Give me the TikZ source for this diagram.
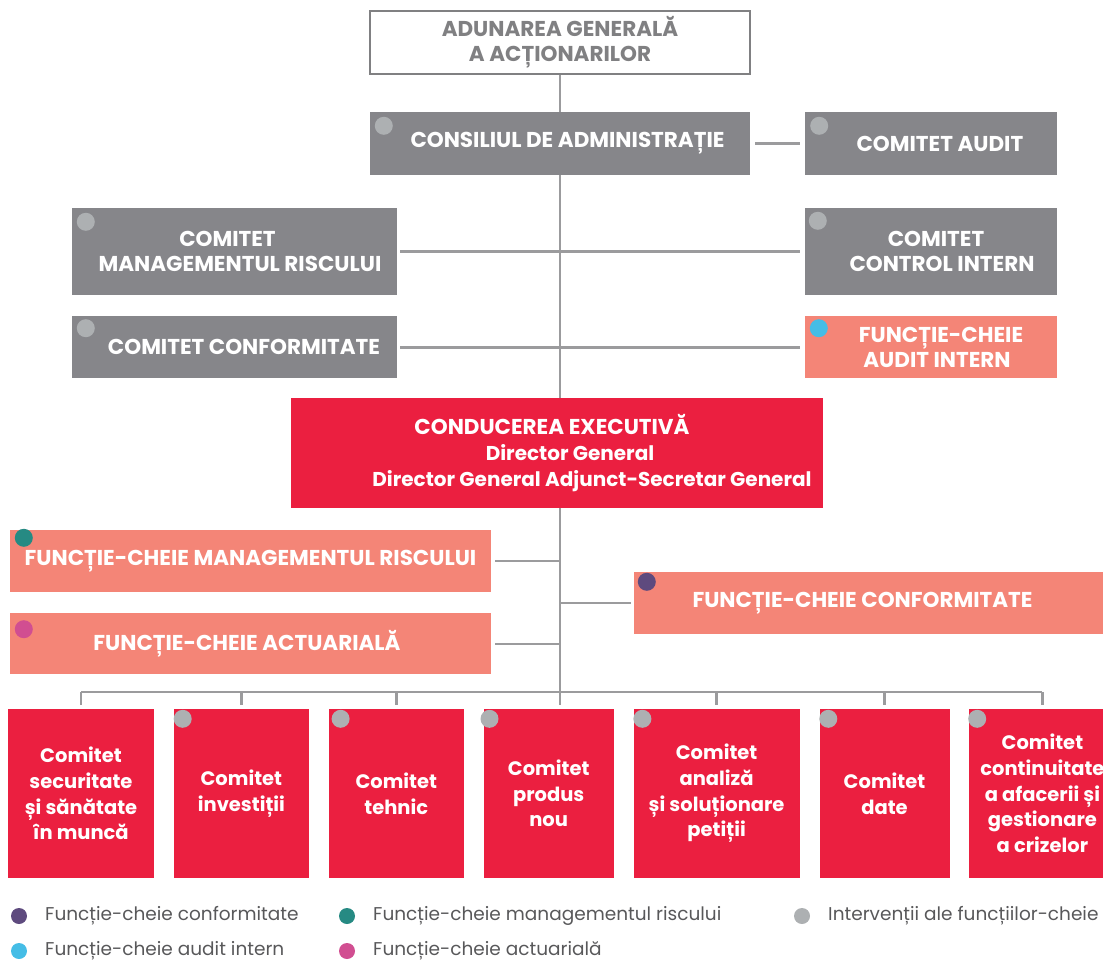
\documentclass[tikz,border=0pt]{standalone}
\usepackage{fontspec}
\setmainfont{Poppins}
\usetikzlibrary{positioning}
\definecolor{boxgray}{HTML}{86868A}
\definecolor{aggray}{HTML}{808082}
\definecolor{linegray}{HTML}{9B9B9D}
\definecolor{dotgray}{HTML}{ADB0B2}
\definecolor{keysalmon}{HTML}{F48577}
\definecolor{execred}{HTML}{EB1F40}
\definecolor{dotpurple}{HTML}{5E4A7E}
\definecolor{dotteal}{HTML}{268A83}
\definecolor{dotcyan}{HTML}{45BDE6}
\definecolor{dotpink}{HTML}{D14E91}
\definecolor{legendtext}{HTML}{58585A}
\newcommand\capsfont{\bfseries\fontsize{21.5}{25}\selectfont}
\newcommand\nudge[1]{\hspace*{#1pt}}
\begin{document}
\begin{tikzpicture}[x=1pt,y=-1pt,
    box/.style={inner sep=0pt, align=center, text=white, font=\capsfont},
    graybox/.style={box, fill=boxgray},
    keybox/.style={box, fill=keysalmon},
    execbox/.style={box, fill=execred, font=\bfseries\fontsize{20}{26}\selectfont},
    comitet/.style={box, fill=execred, minimum height=169pt, font=\bfseries\fontsize{19.5}{25.7}\selectfont},
    legend/.style={inner sep=0pt, anchor=west, text=legendtext, font=\fontsize{18.5}{20}\selectfont},
    link/.style={draw=linegray, line width=2.5pt},
    node distance=19.5pt]
\useasboundingbox (0,0) rectangle (1103,961);

\node[graybox, minimum width=380pt, minimum height=63pt] (ca) at (560,143.5) {\nudge{15}CONSILIUL DE ADMINISTRAȚIE};
\node[box, fill=white, draw=aggray, line width=2pt, text=aggray, minimum width=380pt, minimum height=63pt, above=37pt of ca] (aga) {ADUNAREA GENERALĂ\\A ACȚIONARILOR};
\node[graybox, minimum width=252pt, minimum height=63pt, right=55pt of ca] (caud) {\nudge{17}COMITET AUDIT};
\node[graybox, minimum width=325pt, minimum height=87pt] (cmr) at (234.5,251.5) {COMITET\nudge{14}\\\nudge{11}MANAGEMENTUL RISCULUI};
\node[graybox, minimum width=252pt, minimum height=87pt] (cci) at (931,251.5) {\nudge{10}COMITET\\\nudge{22}CONTROL INTERN};
\node[graybox, minimum width=325pt, minimum height=62pt, below=21pt of cmr] (ccf) {\nudge{19}COMITET CONFORMITATE};
\node[keybox, minimum width=252pt, minimum height=62pt, below=21pt of cci] (fai) {\nudge{20}FUNCȚIE-CHEIE\\\nudge{12}AUDIT INTERN};
\node[execbox, minimum width=532pt, minimum height=110pt] (exec) at (557,453) {{\capsfont CONDUCEREA EXECUTIVĂ}\nudge{10}\\\nudge{26}Director General\\\nudge{70}Director General Adjunct-Secretar General};
\node[keybox, minimum width=481pt, minimum height=62pt] (fmr) at (250.5,561) {FUNCȚIE-CHEIE MANAGEMENTUL RISCULUI};
\node[keybox, minimum width=481pt, minimum height=61pt, below=21pt of fmr] (fact) {FUNCȚIE-CHEIE ACTUARIALĂ\nudge{7}};
\node[keybox, minimum width=472pt, minimum height=62pt] (fcf) at (870,603) {FUNCȚIE-CHEIE CONFORMITATE\nudge{15}};

\node[comitet, minimum width=146pt] (c1) at (81,793.5) {Comitet\\securitate\\și sănătate\\în muncă};
\node[comitet, minimum width=135pt, right=of c1] (c2) {Comitet\\investiții};
\node[comitet, minimum width=135pt, right=of c2] (c3) {Comitet\\tehnic};
\node[comitet, minimum width=130pt, right=of c3] (c4) {Comitet\\produs\\nou};
\node[comitet, minimum width=166pt, right=of c4] (c5) {Comitet\\analiză\\și soluționare\\petiții};
\node[comitet, minimum width=130pt, right=of c5] (c6) {Comitet\\date};
\node[comitet, minimum width=146pt, right=of c6] (c7) {Comitet\\continuitate\\a afacerii și\\gestionare\\a crizelor};

\foreach \n/\c/\dx/\dy in {ca/dotgray/14/14, caud/dotgray/14/14, cmr/dotgray/14/14, cci/dotgray/13/13, ccf/dotgray/14/12,
    fai/dotcyan/14/12, fmr/dotteal/14/8, fact/dotpink/14/16, fcf/dotpurple/13/10,
    c2/dotgray/9/10, c3/dotgray/12/10, c4/dotgray/6/10, c5/dotgray/9/10, c6/dotgray/9/10, c7/dotgray/8/10}
  \fill[\c] ([xshift=\dx pt,yshift=-\dy pt]\n.north west) circle (9pt);

\coordinate (bus) at (560,692);
\draw[link] (aga) -- (ca);
\draw[link, shorten <=5pt, shorten >=5pt] (ca) -- (caud);
\draw[link] (ca.south) -- (ca.south |- exec.north);
\draw[link, shorten <=3pt, shorten >=5pt] (cmr) -- (cci);
\draw[link, shorten <=3pt, shorten >=5pt] (ccf) -- (fai);
\draw[link] (exec.south -| bus) -- (bus);
\draw[link] ([xshift=4pt]fmr.east) -- (fmr.east -| bus);
\draw[link] ([xshift=4pt]fact.east) -- (fact.east -| bus);
\draw[link] (fcf.west -| bus) -- ([xshift=-3pt]fcf.west);
\draw[link] (c1.north |- bus) -- (c7.north |- bus);
\foreach \c in {c1,c2,c3,c5,c6,c7}
  \draw[link] (\c.north |- bus) -- ([yshift=4pt]\c.north);
\draw[link] (bus) -- ([yshift=4pt]c4.north -| bus);

\node[legend] (lg1) at (45,916) {Funcție-cheie conformitate};
\node[legend] (lg2) at (373,916) {Funcție-cheie managementul riscului};
\node[legend] (lg3) at (828,916) {Intervenții ale funcțiilor-cheie};
\node[legend] (lg4) at (45,951) {Funcție-cheie audit intern};
\node[legend] (lg5) at (373,951) {Funcție-cheie actuarială};
\foreach \n/\c in {lg1/dotpurple, lg2/dotteal, lg3/dotgray, lg4/dotcyan, lg5/dotpink}
  \fill[\c] ([xshift=-26pt]\n.west) circle (8pt);
\end{tikzpicture}
\end{document}
